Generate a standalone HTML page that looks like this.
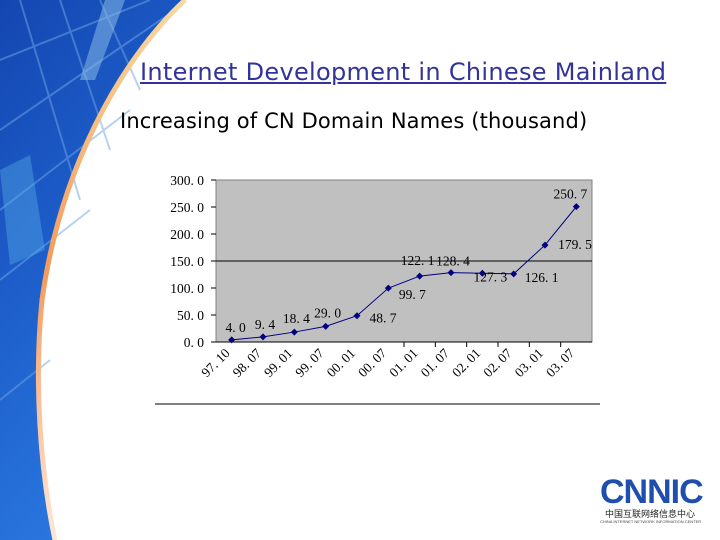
<!DOCTYPE html>
<html><head><meta charset="utf-8">
<style>
html,body{margin:0;padding:0;}
body{width:720px;height:540px;overflow:hidden;background:#fff;position:relative;font-family:"Liberation Sans",sans-serif;}
#title{position:absolute;left:140px;top:58px;font-size:24px;color:#333399;text-decoration:underline;white-space:nowrap;font-family:"DejaVu Sans","Liberation Sans",sans-serif;letter-spacing:0.3px;}
#subtitle{position:absolute;left:120px;top:109px;font-size:21px;color:#000;white-space:nowrap;font-family:"DejaVu Sans","Liberation Sans",sans-serif;letter-spacing:0.15px;}
svg text{font-family:"Liberation Serif","Noto Serif CJK SC",serif;}
</style></head>
<body>
<svg width="720" height="540" style="position:absolute;left:0;top:0">
 <defs>
  <linearGradient id="bg" x1="0" y1="0" x2="0.4" y2="1">
   <stop offset="0" stop-color="#1446b0"/>
   <stop offset="0.45" stop-color="#1c5cc8"/>
   <stop offset="1" stop-color="#2a78e0"/>
  </linearGradient>
  <linearGradient id="edge" x1="0" y1="0" x2="0" y2="1">
   <stop offset="0" stop-color="#f7d9a0"/>
   <stop offset="0.5" stop-color="#f59a5a"/>
   <stop offset="1" stop-color="#fde8d8"/>
  </linearGradient>
 </defs>
 <path d="M0,0 L185,0 C120,60 60,170 42,300 C34,380 40,470 55,540 L0,540 Z" fill="url(#bg)"/>
 <g stroke="#6fa6e6" stroke-width="2" opacity="0.5" fill="none">
  <path d="M0,60 L150,0"/><path d="M0,130 L175,10"/><path d="M0,210 L130,110"/><path d="M0,280 L90,210"/>
  <path d="M20,0 L80,200"/><path d="M60,0 L110,150"/><path d="M100,0 L140,90"/><path d="M0,400 L50,360"/>
 </g>
 <path d="M105,0 L125,0 L95,80 L80,80 Z" fill="#8fc2ea" opacity="0.5"/>
 <path d="M0,170 L30,155 L45,250 L10,265 Z" fill="#5ab0e8" opacity="0.4"/>
 <path d="M185,0 C120,60 60,170 42,300 C34,380 40,470 55,540" fill="none" stroke="url(#edge)" stroke-width="5"/>
</svg>
<div id="title">Internet Development in Chinese Mainland</div>
<div id="subtitle">Increasing of CN Domain Names (thousand)</div>
<svg id="chart" width="720" height="540" style="position:absolute;left:0;top:0"></svg>
<div style="position:absolute;left:600px;top:476px;width:100px;text-align:center;">
 <div style="font:bold 34px 'Liberation Sans',sans-serif;color:#1f4fae;letter-spacing:-1px;line-height:32px;">CNNIC</div>
 <div style="font:9px 'Noto Sans CJK SC',sans-serif;color:#222;line-height:11px;">中国互联网络信息中心</div>
 <div style="font:4px 'Liberation Sans',sans-serif;color:#444;line-height:6px;white-space:nowrap;">CHINA INTERNET NETWORK INFORMATION CENTER</div>
</div>
<script>
const categories=["97. 10","98. 07","99. 01","99. 07","00. 01","00. 07","01. 01","01. 07","02. 01","02. 07","03. 01","03. 07"];
const values=[4.0,9.4,18.4,29.0,48.7,99.7,122.1,128.4,127.3,126.1,179.5,250.7];
const valueLabels=["4. 0","9. 4","18. 4","29. 0","48. 7","99. 7","122. 1","128. 4","127. 3","126. 1","179. 5","250. 7"];
const yTicks=[0,50,100,150,200,250,300];
const yTickLabels=["0. 0","50. 0","100. 0","150. 0","200. 0","250. 0","300. 0"];
const labelDx=[4,2,2,2,26,24,-2,2,8,28,30,-6];
const labelDy=[-8,-8,-9,-9,7,11,-11,-7,8,8,4,-8];
const NS="http://www.w3.org/2000/svg";
const svg=document.getElementById('chart');
const L=216,R=592,T=180,B=342,yMax=300;
const bw=(R-L)/categories.length;
const x=i=>L+bw*(i+0.5);
const y=v=>B-(v/yMax)*(B-T);
function mk(tag,attrs,parent){const e=document.createElementNS(NS,tag);for(const k in attrs)e.setAttribute(k,attrs[k]);(parent||svg).appendChild(e);return e;}
let e=mk('rect',{x:L,y:T,width:R-L,height:B-T,fill:'#c0c0c0',stroke:'#808080','stroke-width':1});


e=mk('line',{x1:L,y1:y(150),x2:R,y2:y(150),stroke:'#000','stroke-width':1});


e=mk('line',{x1:L,y1:B,x2:R,y2:B,stroke:'#000','stroke-width':1});


yTicks.forEach((t,i)=>{
 let tk=mk('line',{x1:L-5,y1:y(t),x2:L,y2:y(t),stroke:'#000'});
 
 
 let tx=mk('text',{x:204,y:y(t)+5,'font-size':13.5,'text-anchor':'end',fill:'#000'});
 tx.textContent=yTickLabels[i];
 
 
});
categories.forEach((c,i)=>{
 if(i>=6){let tk=mk('line',{x1:L+bw*i,y1:B,x2:L+bw*i,y2:B+5,stroke:'#000'});
 
 }
 const cx=x(i)-1,cy=B+12;
 let tx=mk('text',{x:cx,y:cy,'font-size':13.5,'text-anchor':'end',fill:'#000',transform:`rotate(-45 ${cx} ${cy})`});
 tx.textContent=c;
 
 
});
let pts=values.map((v,i)=>x(i)+','+y(v)).join(' ');
e=mk('polyline',{points:pts,fill:'none',stroke:'#000080','stroke-width':1});


values.forEach((v,i)=>{
 const px=x(i),py=y(v);
 let m=mk('path',{d:`M${px},${py-3.5} L${px+3.5},${py} L${px},${py+3.5} L${px-3.5},${py} Z`,fill:'#000080'});
 
 
 let tx=mk('text',{x:px+labelDx[i],y:py+labelDy[i],'font-size':13.5,'text-anchor':'middle',fill:'#000'});
 tx.textContent=valueLabels[i];
 
 
});
e=mk('line',{x1:155,y1:404,x2:600,y2:404,stroke:'#000','stroke-width':1});


</script>
</body></html>
